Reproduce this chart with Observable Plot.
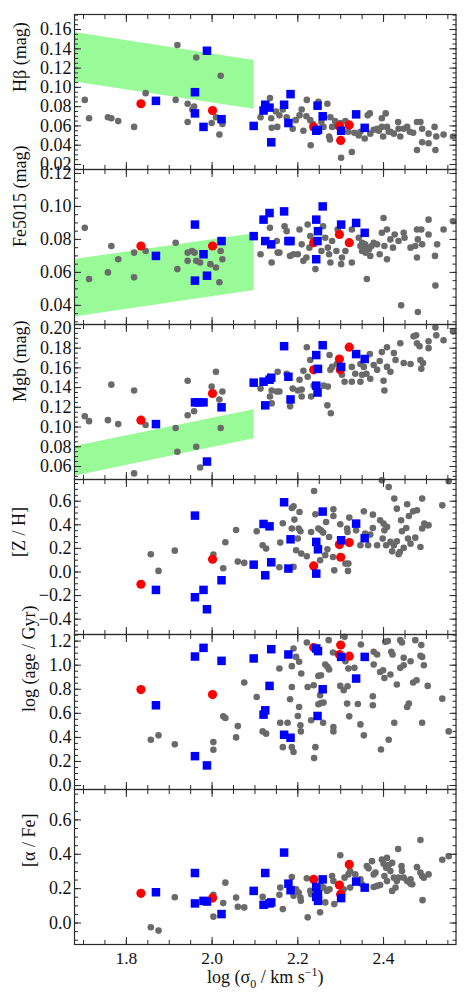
<!DOCTYPE html>
<html><head><meta charset="utf-8">
<script src="https://cdn.jsdelivr.net/npm/d3@7"></script>
<script src="https://cdn.jsdelivr.net/npm/@observablehq/plot@0.6"></script>
<style>
body{margin:0;background:#fff;}
#chart{position:relative;width:469px;height:1004px;font-family:"Liberation Serif","Times New Roman",serif;color:#222;}
#chart svg{position:absolute;left:0;overflow:visible;background:transparent;}
</style></head><body><div id="chart"></div>
<script>
// ---------- data (x = log sigma0, y = panel quantity) ----------
const grayHb = [[1.703,0.087],[1.713,0.068],[1.757,0.069],[1.765,0.068],[1.781,0.065],[1.818,0.059],[1.845,0.094],[1.915,0.087],[1.919,0.144],[1.943,0.083],[1.943,0.064],[1.958,0.080],[1.954,0.077],[1.963,0.131],[1.999,0.063],[2.009,0.069],[2.020,0.112],[2.017,0.051],[2.024,0.062],
[2.135,0.089],[2.113,0.069],[2.138,0.068],[2.139,0.058],[2.152,0.059],[2.149,0.075],[2.157,0.071],[2.174,0.069],[2.188,0.057],[2.204,0.071],[2.209,0.077],[2.213,0.055],[2.221,0.087],[2.220,0.070],[2.229,0.066],[2.230,0.040],[2.248,0.085],[2.269,0.083],[2.276,0.069],[2.273,0.049],[2.275,0.046],[2.280,0.059],[2.260,0.059],[2.287,0.065],[2.311,0.065],[2.326,0.033],[2.301,0.027],[2.332,0.053],[2.342,0.050],[2.356,0.047],[2.368,0.073],[2.363,0.071],[2.369,0.052],[2.385,0.057],[2.396,0.068],[2.405,0.073],[2.399,0.049],[2.408,0.059],[2.416,0.054],[2.424,0.052],[2.434,0.064],[2.439,0.049],[2.447,0.057],[2.461,0.054],[2.469,0.053],[2.478,0.064],[2.478,0.035],[2.486,0.064],[2.490,0.043],[2.490,0.057],[2.505,0.052],[2.505,0.042],[2.519,0.059],[2.521,0.035],[2.523,0.049],[2.540,0.051],[2.562,0.049],[2.318,0.054],[2.346,0.054],[2.377,0.056],[2.396,0.059],[2.389,0.055],[2.412,0.054],[2.435,0.057],[2.455,0.059],[2.235,0.062],[2.255,0.064],[2.290,0.060],[2.300,0.063],[2.195,0.066],[2.165,0.077]];
const redHb = [[1.834,0.083],[2.001,0.076],[2.237,0.059],[2.297,0.060],[2.320,0.061],[2.300,0.045]];
const blueHb = [[1.869,0.086],[1.960,0.095],[1.960,0.073],[1.988,0.138],[1.980,0.059],[2.022,0.067],[2.097,0.060],[2.124,0.082],[2.120,0.076],[2.134,0.079],[2.138,0.043],[2.168,0.082],[2.183,0.093],[2.178,0.063],[2.246,0.081],[2.258,0.070],[2.243,0.055],[2.247,0.056],[2.301,0.055],[2.336,0.072],[2.356,0.058]];
const bandHb = [{x:1.679,lo:0.1056,hi:0.157},{x:2.098,lo:0.0773,hi:0.128}];

const grayFe = [[1.703,0.087],[1.713,0.056],[1.757,0.060],[1.765,0.076],[1.781,0.068],[1.818,0.072],[1.818,0.057],[1.845,0.073],[1.915,0.078],[1.919,0.062],[1.943,0.072],[1.943,0.067],[1.953,0.073],[1.959,0.072],[1.963,0.067],[1.972,0.066],[1.996,0.065],[2.009,0.063],[2.020,0.073],[2.017,0.054],[2.024,0.068],
[2.113,0.071],[2.135,0.087],[2.139,0.066],[2.151,0.079],[2.153,0.072],[2.157,0.072],[2.169,0.088],[2.174,0.085],[2.182,0.070],[2.190,0.071],[2.200,0.071],[2.204,0.086],[2.209,0.077],[2.213,0.067],[2.220,0.069],[2.223,0.089],[2.227,0.075],[2.229,0.082],[2.241,0.062],[2.255,0.073],[2.259,0.088],[2.264,0.081],[2.270,0.075],[2.273,0.071],[2.276,0.066],[2.280,0.079],[2.290,0.073],[2.293,0.086],[2.303,0.069],[2.301,0.065],[2.311,0.073],[2.326,0.066],[2.326,0.086],[2.342,0.081],[2.346,0.076],[2.350,0.078],[2.354,0.074],[2.357,0.077],[2.361,0.075],[2.350,0.073],[2.361,0.056],[2.369,0.070],[2.377,0.078],[2.385,0.077],[2.391,0.071],[2.396,0.084],[2.400,0.093],[2.402,0.076],[2.408,0.086],[2.408,0.068],[2.416,0.080],[2.422,0.075],[2.426,0.083],[2.435,0.079],[2.441,0.040],[2.447,0.084],[2.449,0.081],[2.463,0.075],[2.474,0.076],[2.478,0.086],[2.480,0.080],[2.480,0.036],[2.488,0.086],[2.490,0.077],[2.478,0.069],[2.505,0.092],[2.505,0.083],[2.520,0.070],[2.521,0.052],[2.525,0.077],[2.540,0.086],[2.562,0.091],[2.366,0.074],[2.372,0.076],[2.358,0.072]];
const redFe = [[1.834,0.076],[2.001,0.076],[2.237,0.078],[2.297,0.083],[2.320,0.078]];
const blueFe = [[1.869,0.070],[1.960,0.089],[1.960,0.055],[1.980,0.071],[1.988,0.058],[2.022,0.079],[2.097,0.082],[2.124,0.079],[2.120,0.092],[2.134,0.096],[2.138,0.077],[2.168,0.097],[2.183,0.079],[2.178,0.079],[2.258,0.100],[2.243,0.092],[2.247,0.085],[2.246,0.079],[2.243,0.068],[2.301,0.089],[2.336,0.090],[2.356,0.084]];
const bandFe = [{x:1.679,lo:0.033,hi:0.0678},{x:2.098,lo:0.049,hi:0.0834}];

const grayMg = [[1.703,0.111],[1.713,0.106],[1.757,0.107],[1.765,0.143],[1.781,0.103],[1.818,0.137],[1.818,0.053],[1.845,0.102],[1.915,0.099],[1.919,0.075],[1.943,0.147],[1.943,0.112],[1.958,0.116],[1.963,0.080],[1.972,0.059],[1.999,0.141],[2.009,0.156],[2.017,0.128],[2.020,0.099],[2.024,0.136],
[2.113,0.139],[2.135,0.131],[2.139,0.124],[2.139,0.137],[2.151,0.136],[2.157,0.136],[2.153,0.156],[2.174,0.154],[2.182,0.121],[2.188,0.139],[2.200,0.137],[2.209,0.138],[2.209,0.131],[2.204,0.148],[2.213,0.157],[2.221,0.181],[2.223,0.151],[2.229,0.168],[2.231,0.131],[2.237,0.142],[2.260,0.142],[2.270,0.141],[2.269,0.122],[2.274,0.173],[2.277,0.114],[2.276,0.158],[2.280,0.161],[2.291,0.164],[2.303,0.153],[2.309,0.146],[2.326,0.146],[2.326,0.161],[2.334,0.154],[2.346,0.146],[2.346,0.164],[2.350,0.153],[2.354,0.161],[2.360,0.154],[2.368,0.174],[2.369,0.149],[2.377,0.163],[2.385,0.158],[2.391,0.167],[2.396,0.176],[2.400,0.147],[2.402,0.137],[2.408,0.181],[2.408,0.161],[2.416,0.156],[2.424,0.175],[2.428,0.168],[2.439,0.185],[2.447,0.165],[2.463,0.164],[2.470,0.192],[2.476,0.193],[2.478,0.185],[2.484,0.182],[2.486,0.168],[2.488,0.159],[2.492,0.165],[2.505,0.187],[2.505,0.180],[2.521,0.201],[2.523,0.193],[2.540,0.188],[2.562,0.197]];
const redMg = [[1.834,0.107],[2.001,0.134],[2.237,0.158],[2.297,0.169],[2.320,0.181],[2.299,0.158]];
const blueMg = [[1.869,0.103],[1.960,0.125],[1.968,0.125],[1.980,0.125],[1.988,0.065],[2.022,0.120],[2.097,0.145],[2.120,0.146],[2.134,0.148],[2.138,0.150],[2.124,0.122],[2.168,0.182],[2.178,0.151],[2.183,0.128],[2.258,0.183],[2.243,0.173],[2.247,0.159],[2.243,0.142],[2.246,0.135],[2.301,0.161],[2.336,0.174],[2.356,0.169]];
const bandMg = [{x:1.679,lo:0.0501,hi:0.0803},{x:2.098,lo:0.0882,hi:0.1176}];

const grayZH = [[1.857,0.150],[1.875,0.009],[1.913,0.181],[2.003,0.147],[2.026,0.031],[2.031,0.252],[2.056,0.356],[2.060,0.088],
[2.075,0.077],[2.104,0.345],[2.118,0.226],[2.126,0.198],[2.157,0.040],[2.159,0.249],[2.165,0.413],[2.186,0.543],[2.190,0.557],[2.186,0.368],[2.192,0.444],[2.196,0.184],[2.202,0.368],[2.206,0.345],[2.204,0.509],[2.200,0.283],[2.208,0.156],[2.221,0.133],[2.190,0.043],[2.231,0.339],[2.238,0.687],[2.241,0.489],[2.248,0.368],[2.254,0.353],[2.259,0.334],[2.252,0.099],[2.264,0.142],[2.269,0.192],[2.266,0.424],[2.273,0.297],[2.282,0.127],[2.283,0.531],[2.283,0.475],[2.285,0.014],[2.299,0.404],[2.315,0.368],[2.316,0.339],[2.311,0.071],[2.318,0.071],[2.317,0.009],[2.320,0.461],[2.336,0.353],[2.346,0.226],[2.354,0.514],[2.357,0.325],[2.364,0.226],[2.369,0.317],[2.375,0.486],[2.375,0.373],[2.385,0.226],[2.392,0.438],[2.400,0.410],[2.396,0.777],[2.398,0.283],[2.402,0.353],[2.408,0.382],[2.412,0.721],[2.406,0.226],[2.416,0.255],[2.424,0.226],[2.431,0.260],[2.425,0.622],[2.431,0.537],[2.420,0.175],[2.438,0.170],[2.435,0.150],[2.441,0.438],[2.447,0.204],[2.443,0.345],[2.453,0.373],[2.455,0.574],[2.459,0.475],[2.457,0.283],[2.463,0.240],[2.469,0.514],[2.478,0.523],[2.474,0.291],[2.486,0.212],[2.490,0.622],[2.490,0.368],[2.495,0.410],[2.502,0.396],[2.505,0.396],[2.537,0.565],[2.552,0.769]];
const redZH = [[1.834,-0.104],[2.001,0.108],[2.237,0.051],[2.297,0.232],[2.320,0.249],[2.300,0.125]];
const blueZH = [[1.869,-0.152],[1.960,0.478],[1.960,-0.214],[1.980,-0.152],[1.988,-0.316],[2.022,-0.070],[2.097,0.062],[2.120,0.407],[2.134,0.387],[2.124,-0.028],[2.138,0.082],[2.168,0.591],[2.183,0.277],[2.178,0.029],[2.258,0.512],[2.243,0.255],[2.247,0.192],[2.243,-0.014],[2.336,0.410],[2.301,0.269],[2.356,0.286]];

const grayAge = [[1.857,0.381],[1.875,0.417],[1.913,0.342],[2.003,0.361],[2.003,0.297],[2.026,0.575],[2.031,0.561],[2.056,0.400],[2.060,0.494],
[2.075,0.856],[2.104,0.736],[2.118,0.450],[2.126,0.431],[2.157,0.972],[2.159,0.522],[2.176,0.522],[2.165,0.319],[2.182,0.717],[2.186,0.992],[2.186,0.819],[2.186,0.319],[2.190,0.278],[2.190,1.139],[2.196,1.069],[2.203,1.028],[2.200,0.578],[2.203,0.653],[2.206,0.500],[2.207,0.450],[2.208,0.931],[2.221,1.189],[2.223,0.819],[2.231,0.542],[2.237,0.833],[2.238,0.228],[2.241,0.319],[2.248,0.911],[2.254,0.917],[2.248,0.675],[2.254,0.686],[2.260,0.689],[2.259,0.522],[2.252,0.750],[2.264,1.006],[2.269,0.986],[2.273,0.964],[2.272,1.208],[2.283,0.486],[2.283,0.450],[2.282,1.106],[2.299,0.828],[2.307,0.792],[2.316,0.825],[2.309,1.236],[2.311,1.033],[2.315,0.681],[2.318,0.972],[2.320,0.575],[2.332,0.978],[2.340,0.678],[2.346,0.508],[2.347,1.172],[2.354,0.417],[2.375,0.742],[2.375,0.667],[2.377,1.111],[2.385,1.089],[2.377,1.006],[2.392,0.944],[2.399,0.958],[2.402,0.894],[2.394,0.300],[2.404,1.194],[2.410,1.200],[2.412,0.381],[2.416,0.922],[2.418,1.111],[2.421,1.089],[2.425,0.522],[2.431,0.839],[2.439,1.208],[2.443,1.189],[2.439,0.978],[2.447,1.000],[2.447,1.061],[2.455,0.653],[2.459,0.681],[2.463,1.033],[2.469,0.856],[2.477,0.875],[2.474,1.208],[2.486,1.078],[2.490,1.069],[2.488,1.167],[2.490,0.522],[2.494,1.000],[2.503,0.828],[2.537,0.722],[2.552,0.450]];
const redAge = [[1.834,0.797],[2.001,0.756],[2.237,1.147],[2.300,1.167],[2.297,1.089],[2.320,1.075]];
const blueAge = [[1.869,0.667],[1.960,1.072],[1.980,1.144],[1.960,0.244],[1.988,0.167],[2.022,1.036],[2.097,1.056],[2.138,1.133],[2.178,1.089],[2.134,0.828],[2.124,0.625],[2.120,0.589],[2.168,0.422],[2.183,0.397],[2.243,1.139],[2.247,1.117],[2.258,0.800],[2.246,0.578],[2.301,1.069],[2.336,0.889],[2.356,1.069]];

const grayAF = [[1.857,-0.025],[1.875,-0.044],[1.913,0.150],[2.003,0.164],[2.003,0.037],[2.026,0.116],[2.031,0.235],[2.056,0.148],[2.060,0.095],
[2.075,0.091],[2.118,0.152],[2.126,0.100],[2.120,0.100],[2.157,0.164],[2.159,0.206],[2.165,0.081],[2.182,0.187],[2.186,0.268],[2.190,0.158],[2.196,0.196],[2.202,0.177],[2.206,0.148],[2.207,0.129],[2.221,0.260],[2.223,0.033],[2.229,0.187],[2.231,0.168],[2.252,0.062],[2.254,0.216],[2.260,0.206],[2.264,0.120],[2.268,0.187],[2.274,0.196],[2.280,0.273],[2.283,0.244],[2.285,0.110],[2.299,0.394],[2.303,0.177],[2.307,0.196],[2.309,0.264],[2.318,0.283],[2.322,0.302],[2.322,0.206],[2.334,0.283],[2.346,0.254],[2.350,0.225],[2.361,0.331],[2.365,0.318],[2.373,0.360],[2.377,0.283],[2.381,0.293],[2.377,0.210],[2.385,0.216],[2.392,0.221],[2.396,0.369],[2.400,0.345],[2.402,0.273],[2.408,0.244],[2.406,0.321],[2.412,0.337],[2.416,0.302],[2.408,0.379],[2.420,0.350],[2.424,0.264],[2.431,0.244],[2.435,0.264],[2.420,0.187],[2.428,0.206],[2.434,0.431],[2.443,0.302],[2.447,0.264],[2.455,0.244],[2.463,0.254],[2.467,0.225],[2.478,0.325],[2.486,0.293],[2.490,0.273],[2.494,0.264],[2.505,0.283],[2.486,0.483],[2.491,0.133],[2.537,0.368],[2.552,0.389],[2.442,0.331],[2.463,0.229]];
const redAF = [[1.834,0.173],[2.001,0.145],[2.237,0.254],[2.297,0.221],[2.320,0.341],[2.300,0.168]];
const blueAF = [[1.869,0.179],[1.960,0.291],[1.960,0.114],[1.980,0.129],[1.988,0.125],[2.022,0.052],[2.097,0.187],[2.120,0.106],[2.134,0.114],[2.138,0.120],[2.124,0.291],[2.168,0.410],[2.178,0.229],[2.183,0.191],[2.258,0.254],[2.243,0.210],[2.247,0.168],[2.243,0.152],[2.247,0.129],[2.301,0.145],[2.336,0.241],[2.356,0.206]];

// ticks
const xTicks = [1.8, 2.0, 2.2, 2.4];
const yTicksHb = [0.02,0.04,0.06,0.08,0.10,0.12,0.14,0.16];
const yTicksFe = [0.04,0.06,0.08,0.10,0.12];
const yTicksMg = [0.06,0.08,0.10,0.12,0.14,0.16,0.18,0.20];
const yTicksZH = [-0.4,-0.2,0.0,0.2,0.4,0.6];
const yTicksAge = [0.0,0.2,0.4,0.6,0.8,1.0,1.2];
const yTicksAF = [0.0,0.2,0.4,0.6];
const yLabels = ["Hβ (mag)","Fe5015 (mag)","Mgb (mag)","[Z / H]","log (age / Gyr)","[α / Fe]"];
const xLabel = "log (σ0 / km s-1)";

// ---------- layout ----------
const W = 469, ML = 74, MR = 13.5, PH = 155, TOP0 = 14, MT = 10, MB = 10, MB_LAST = 58;
const xDomain = [1.679, 2.569];
const xMinor = d3.range(34, 52).map(k => +(k * 0.05).toFixed(2));
const minor = (lo, hi, step) => d3.range(Math.ceil(lo / step), Math.floor(hi / step) + 1).map(k => +(k * step).toFixed(4));

const panels = [
  {label: yLabels[0], domain: [0.0148, 0.1756], ticks: yTicksHb, step: 0.005, fmt: d3.format(".2f"), gray: grayHb, red: redHb, blue: blueHb, band: bandHb, ldx: -54},
  {label: yLabels[1], domain: [0.0284, 0.1224], ticks: yTicksFe, step: 0.005, fmt: d3.format(".2f"), gray: grayFe, red: redFe, blue: blueFe, band: bandFe, ldx: -54},
  {label: yLabels[2], domain: [0.0468, 0.2040], ticks: yTicksMg, step: 0.005, fmt: d3.format(".2f"), gray: grayMg, red: redMg, blue: blueMg, band: bandMg, ldx: -54},
  {label: yLabels[3], domain: [-0.53, 0.784], ticks: yTicksZH, step: 0.05, fmt: d3.format(".1f"), gray: grayZH, red: redZH, blue: blueZH, ldx: -55},
  {label: yLabels[4], domain: [-0.033, 1.255], ticks: yTicksAge, step: 0.05, fmt: d3.format(".1f"), gray: grayAge, red: redAge, blue: blueAge, ldx: -45},
  {label: yLabels[5], domain: [-0.125, 0.777], ticks: yTicksAF, step: 0.05, fmt: d3.format(".1f"), gray: grayAF, red: redAF, blue: blueAF, ldx: -45}
];

const chart = document.getElementById("chart");
const blank = () => "";
const INK = "#2a2a2a";

panels.forEach((p, i) => {
  const last = i === panels.length - 1;
  const mb = last ? MB_LAST : MB;
  const yMinor = minor(p.domain[0], p.domain[1], p.step);
  const marks = [];
  if (p.band) marks.push(Plot.areaY(p.band, {x: "x", y1: "lo", y2: "hi", fill: "#98fb98"}));
  marks.push(
    Plot.dot(p.gray, {x: d => d[0], y: d => d[1], r: 3.3, fill: "#6a6a6a", stroke: "none"}),
    Plot.dot(p.red, {x: d => d[0], y: d => d[1], r: 4.6, fill: "#ff0000", stroke: "none"}),
    Plot.dot(p.blue, {x: d => d[0], y: d => d[1], r: 4.8, symbol: "square", fill: "#0000ff", stroke: "none"}),
    Plot.axisY(p.ticks, {anchor: "left", tickSize: -7, tickPadding: 10, tickFormat: p.fmt, fontSize: 18, stroke: INK, fill: "#111", label: null}),
    Plot.axisY(yMinor, {anchor: "left", tickSize: -4, tickFormat: blank, stroke: INK, label: null}),
    Plot.axisY(p.ticks, {anchor: "right", tickSize: -7, tickFormat: blank, stroke: INK, label: null}),
    Plot.axisY(yMinor, {anchor: "right", tickSize: -4, tickFormat: blank, stroke: INK, label: null}),
    Plot.axisX(xTicks, {anchor: "top", tickSize: -7, tickFormat: blank, stroke: INK, label: null}),
    Plot.axisX(xMinor, {anchor: "top", tickSize: -4, tickFormat: blank, stroke: INK, label: null}),
    Plot.axisX(xTicks, {anchor: "bottom", tickSize: -7, tickPadding: last ? 14 : 3, tickFormat: last ? d3.format(".1f") : blank, fontSize: 17.5, stroke: INK, fill: "#111", label: null}),
    Plot.axisX(xMinor, {anchor: "bottom", tickSize: -4, tickFormat: blank, stroke: INK, label: null}),
    Plot.frame({stroke: INK, strokeWidth: 1.2}),
    Plot.text([p.label], {text: d => d, frameAnchor: "left", dx: p.ldx, rotate: -90, fontSize: 18, fill: "#111"})
  );
  if (last) marks.push(Plot.text([xLabel], {text: d => d, frameAnchor: "bottom", dy: 38, fontSize: 18, fill: "#111"}));
  const svg = Plot.plot({
    width: W, height: PH + MT + mb,
    marginLeft: ML, marginRight: MR, marginTop: MT, marginBottom: mb,
    x: {domain: xDomain},
    y: {domain: p.domain},
    style: {fontFamily: "'Liberation Serif','Times New Roman',serif", background: "transparent", overflow: "visible"},
    marks
  });
  svg.style.top = (TOP0 + i * PH - MT) + "px";
  chart.appendChild(svg);
  if (last) {
    svg.querySelectorAll("text").forEach(t => {
      if (t.textContent === xLabel) {
        t.textContent = "";
        const ns = "http://www.w3.org/2000/svg";
        const parts = [["log (σ", null, null], ["0", 5, 12], [" / km s", -5, null], ["−1", -7, 12], [")", 7, null]];
        parts.forEach(([s, dy, fs]) => {
          const ts = document.createElementNS(ns, "tspan");
          ts.textContent = s;
          if (dy) ts.setAttribute("dy", dy);
          if (fs) ts.setAttribute("font-size", fs);
          t.appendChild(ts);
        });
      }
    });
  }
});
</script>
</body></html>
